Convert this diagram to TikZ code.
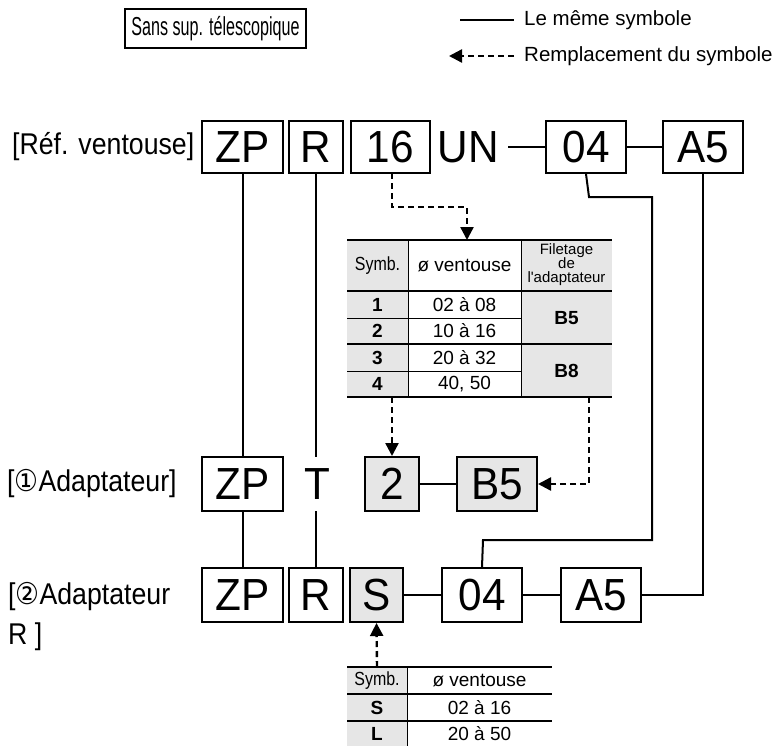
\documentclass[tikz,border=0pt]{standalone}
\usepackage{fontspec}
\setmainfont{Liberation Sans}
\newfontfamily\lblfont[FakeStretch=0.89]{Liberation Sans}
\newfontfamily\condfont[FakeStretch=0.62]{Liberation Sans}
\newfontfamily\symbfont[FakeStretch=0.84]{Liberation Sans}
\newfontfamily\bigfont[FakeStretch=0.94]{Liberation Sans}
\newfontfamily\circfont[FakeStretch=0.89]{DejaVu Sans}
\usetikzlibrary{arrows.meta}
\definecolor{gfill}{HTML}{E6E6E6}
\newcommand\bfnt{\bigfont\fontsize{45}{48}\selectfont}
\newcommand\lfnt{\lblfont\fontsize{30}{40}\selectfont}
\begin{document}
\begin{tikzpicture}[x=1pt,y=-1pt,
  bx/.style={draw, line width=2pt, minimum height=52pt, inner sep=0pt, font=\bfnt},
  bxb/.style={bx, minimum height=54pt},
  gbx/.style={bxb, fill=gfill},
  txt/.style={inner sep=0pt, font=\bfnt},
  ln/.style={line width=2pt},
  jn/.style={line width=2.6pt},
  dsh/.style={line width=2.4pt, dash pattern=on 6pt off 4pt},
  arr/.style={dsh, -{Triangle[length=13pt,width=13pt]}},
  lbl/.style={anchor=west, inner sep=0pt, font=\lfnt, align=left},
  tb/.style={inner sep=0pt, font=\fontsize{19}{22}\selectfont},
  tbb/.style={inner sep=0pt, font=\bfseries\fontsize{19}{22}\selectfont},
  tbs/.style={inner sep=0pt, font=\symbfont\fontsize{19}{22}\selectfont},
  thick1/.style={line width=2pt},
  mid1/.style={line width=1.3pt},
  thin1/.style={line width=1pt},
]
\useasboundingbox (0,0) rectangle (783,746);

% ---- header ----
\node[draw, line width=1.3pt, minimum width=181pt, minimum height=39pt, inner sep=0pt,
      font=\condfont\fontsize{26}{30}\selectfont] (sans) at (215.5,28.5) {Sans sup. télescopique};
\coordinate (lg1a) at (460,20);
\coordinate (lg1b) at (514,20);
\draw[ln] (lg1a) -- (lg1b);
\node[anchor=west, inner sep=0pt, font=\fontsize{20.5}{24}\selectfont] (lgt1) at (524,20) {Le même symbole};
\coordinate (lg2a) at (514,56);
\coordinate (lg2b) at (449,56);
\draw[arr] (lg2a) -- (lg2b);
\node[anchor=west, inner sep=0pt, font=\fontsize{20.5}{24}\selectfont] (lgt2) at (524,56) {Remplacement du symbole};

% ---- row 1 ----
\node[lbl] (lab1) at (12,147) {[Réf. ventouse]};
\node[bx, minimum width=81pt] (zp1) at (242.5,147) {ZP};
\node[bx, minimum width=54pt] (r1) at (316,147) {R};
\node[bx, minimum width=79pt] (s16) at (390.5,147) {16};
\node[txt] (un) at (468.5,147) {UN};
\node[bx, minimum width=80pt] (o41) at (586,147) {04};
\node[bx, minimum width=80pt] (a51) at (703,147) {A5};
\draw[jn] (508,147) -- (o41.west);
\draw[jn] (o41.east) -- (a51.west);

% ---- row 2 ----
\node[lbl] (lab2) at (7,484) {[{\circfont ①}Adaptateur]};
\node[bxb, minimum width=81pt] (zp2) at (242.5,484) {ZP};
\node[txt] (t2) at (317,484) {T};
\node[gbx, minimum width=54pt] (n2) at (392,484) {2};
\node[gbx, minimum width=80pt] (b5) at (497,484) {B5};
\draw[jn] (n2.east) -- (b5.west);

% ---- row 3 ----
\node[lbl] (lab3) at (8,617) {[{\circfont ②}Adaptateur\\R ]};
\node[bxb, minimum width=81pt] (zp3) at (242.5,595) {ZP};
\node[bxb, minimum width=54pt] (r3) at (316,595) {R};
\node[gbx, minimum width=53pt] (s3) at (376.5,595) {S};
\node[bxb, minimum width=80pt] (o43) at (482,595) {04};
\node[bxb, minimum width=80pt] (a53) at (601,595) {A5};
\draw[jn] (s3.east) -- (o43.west);
\draw[jn] (o43.east) -- (a53.west);

% ---- solid connectors ----
\draw[ln] (zp1.south) -- (zp2.north);
\draw[ln] (zp2.south) -- (zp3.north);
\coordinate (rgapT) at (316,457);
\coordinate (rgapB) at (316,511);
\draw[ln] (r1.south) -- (rgapT);
\draw[ln] (rgapB) -- (r3.north);
\draw[ln] (o41.south) -- (589,197) -- (652,197) -- (652,540) -- (483,540) -- (o43.north);
\draw[ln] (a51.south) -- (703,595) -- (a53.east);

% ---- table 1 ----
\fill[gfill] (347,240) rectangle (408,397);
\fill[gfill] (521,240) rectangle (612,397);
\draw[thick1] (347,240) -- (612,240);
\draw[mid1] (347,291) -- (612,291);
\draw[thin1] (347,318) -- (521,318);
\draw[mid1] (347,344) -- (612,344);
\draw[thin1] (347,371) -- (521,371);
\draw[mid1] (347,397) -- (612,397);
\draw[thin1] (408,240) -- (408,397);
\draw[thin1] (521,240) -- (521,397);
\node[tbs] (h1) at (377.5,265.5) {Symb.};
\node[tb] (h2) at (464.5,265.5) {ø ventouse};
\node[inner sep=0pt, align=center, font=\fontsize{15}{14}\selectfont] (h3) at (566.5,265) {Filetage\\de\\l\textquotesingle adaptateur};
\node[tbb] (c11) at (377.5,304.5) {1};
\node[tb]  (c12) at (464.5,304.5) {02 à 08};
\node[tbb] (c21) at (377.5,331) {2};
\node[tb]  (c22) at (464.5,331) {10 à 16};
\node[tbb] (c31) at (377.5,357.5) {3};
\node[tb]  (c32) at (464.5,357.5) {20 à 32};
\node[tbb] (c41) at (377.5,384) {4};
\node[tb]  (c42) at (464.5,384) {40, 50};
\node[tbb] (cb5) at (566.5,318) {B5};
\node[tbb] (cb8) at (566.5,371) {B8};
\coordinate (t1top) at (467,240);
\coordinate (t1bl) at (392,397);
\coordinate (t1br) at (589,397);

% ---- dashed connectors ----
\draw[arr] (392,173) -- (392,207) -- (467,207) -- (t1top);
\draw[arr] (t1bl) -- (n2.north);
\draw[arr] (t1br) -- (589,484) -- (b5.east);

% ---- table 2 ----
\fill[gfill] (347,667) rectangle (407,746);
\draw[thick1] (347,667) -- (552,667);
\draw[mid1] (347,694) -- (552,694);
\draw[mid1] (347,721) -- (552,721);
\draw[thin1] (407,667) -- (407,746);
\node[tbs] (k1) at (377,680.5) {Symb.};
\node[tb]  (k2) at (479.5,680.5) {ø ventouse};
\node[tbb] (k3) at (377,707.5) {S};
\node[tb]  (k4) at (479.5,707.5) {02 à 16};
\node[tbb] (k5) at (377,734) {L};
\node[tb]  (k6) at (479.5,734) {20 à 50};
\coordinate (t2top) at (377,667);
\draw[arr] (t2top) -- (s3.south);
\end{tikzpicture}
\end{document}
